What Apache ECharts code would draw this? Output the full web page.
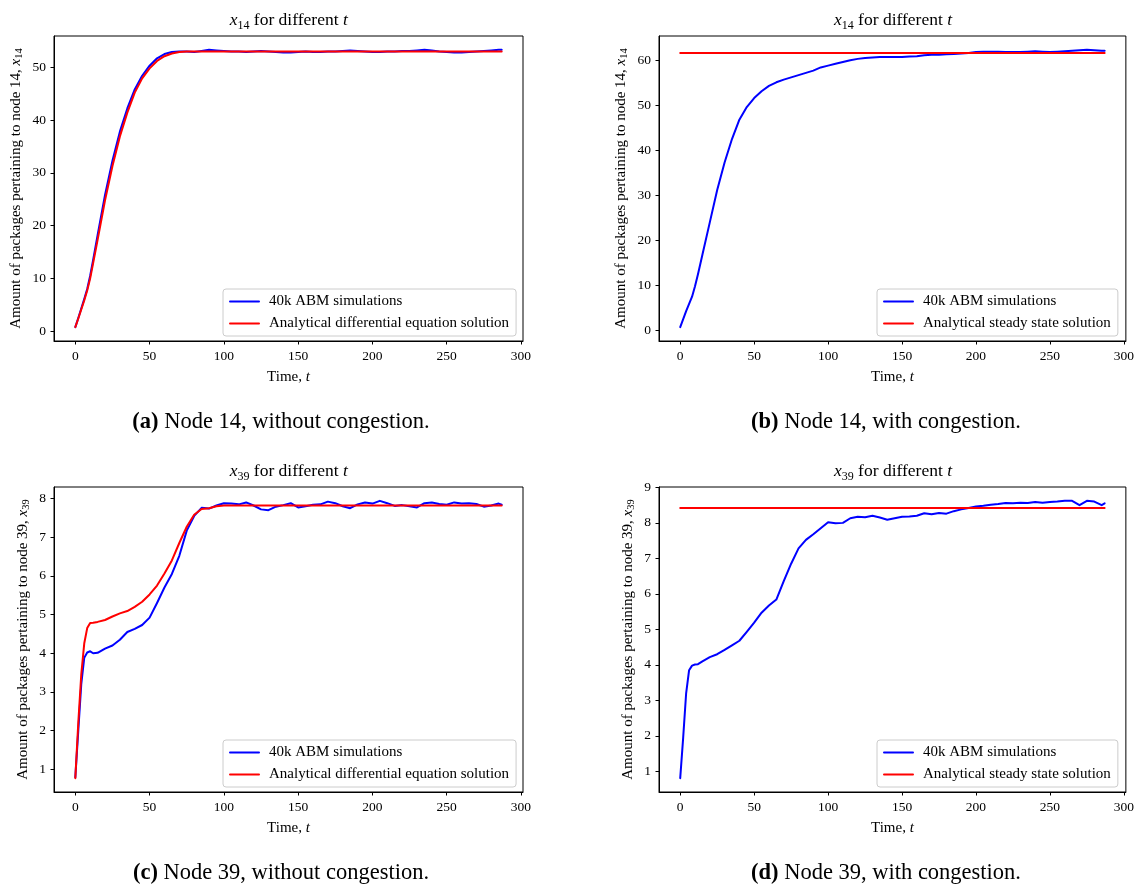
<!DOCTYPE html>
<html><head><meta charset="utf-8">
<script src="https://cdn.jsdelivr.net/npm/echarts@6/dist/echarts.min.js"></script>
<style>html,body{margin:0;padding:0;background:#fff}#c{width:1137px;height:886px}</style>
</head><body><div id="c"></div>
<script>
// ---- data ----
const T = [0,2,4,6,8,10,12,15,20,25,30,35,40,45,50,55,60,65,70,75,80,85,90,95,100,105,110,115,120,125,130,135,140,145,150,155,160,165,170,175,180,185,190,195,200,205,210,215,220,225,230,235,240,245,250,255,260,265,270,275,280,285,287];

const blueA = [0.76,2.5,4.3,6.1,8.0,10.5,13.5,18.2,25.8,32.3,37.8,42.2,45.8,48.4,50.3,51.7,52.5,52.9,53.0,53.0,52.9,53.1,53.3,53.2,53.1,53.0,53.0,52.9,53.0,53.1,53.0,52.9,52.8,52.8,52.9,53.0,52.9,52.9,53.0,53.0,53.1,53.2,53.1,53.0,52.9,52.9,53.0,53.0,53.1,53.1,53.2,53.3,53.2,53.0,52.9,52.8,52.8,52.9,53.0,53.1,53.2,53.3,53.3];
const redA = [0.76,2.4,4.1,5.8,7.7,10.0,12.9,17.3,24.8,31.3,36.9,41.4,45.2,47.9,49.8,51.2,52.1,52.6,52.9,53.0,53.0,53.0,53.0,53.0,53.0,53.0,53.0,53.0,53.0,53.0,53.0,53.0,53.0,53.0,53.0,53.0,53.0,53.0,53.0,53.0,53.0,53.0,53.0,53.0,53.0,53.0,53.0,53.0,53.0,53.0,53.0,53.0,53.0,53.0,53.0,53.0,53.0,53.0,53.0,53.0,53.0,53.0,53.0];

const blueB = [0.74,2.5,4.3,5.9,7.5,9.8,12.5,16.8,24.0,31.2,37.3,42.5,46.8,49.6,51.6,53.1,54.3,55.1,55.7,56.2,56.7,57.2,57.7,58.4,58.8,59.2,59.6,60.0,60.3,60.5,60.6,60.7,60.7,60.7,60.7,60.8,60.9,61.1,61.2,61.2,61.3,61.4,61.5,61.6,61.8,61.9,61.9,61.9,61.8,61.8,61.8,61.9,62.0,61.9,61.8,61.9,62.0,62.1,62.2,62.3,62.2,62.1,62.1];
const steadyB = 61.6;

const blueC = [0.79,2.0,3.2,3.88,4.02,4.05,4.0,4.01,4.12,4.2,4.35,4.55,4.63,4.73,4.92,5.3,5.7,6.05,6.52,7.17,7.55,7.76,7.74,7.82,7.88,7.87,7.85,7.9,7.82,7.72,7.7,7.79,7.83,7.88,7.77,7.8,7.84,7.85,7.92,7.88,7.8,7.75,7.85,7.9,7.87,7.94,7.88,7.81,7.83,7.8,7.77,7.88,7.9,7.86,7.84,7.9,7.87,7.88,7.86,7.79,7.82,7.87,7.84];
const redC = [0.77,2.2,3.45,4.25,4.65,4.78,4.79,4.81,4.86,4.95,5.03,5.09,5.2,5.33,5.52,5.75,6.06,6.4,6.85,7.27,7.58,7.73,7.75,7.8,7.82,7.82,7.82,7.82,7.82,7.82,7.82,7.82,7.82,7.82,7.82,7.82,7.82,7.82,7.82,7.82,7.82,7.82,7.82,7.82,7.82,7.82,7.82,7.82,7.82,7.82,7.82,7.82,7.82,7.82,7.82,7.82,7.82,7.82,7.82,7.82,7.82,7.82,7.82];

const blueD = [0.81,1.95,3.2,3.85,3.98,4.01,4.02,4.1,4.22,4.3,4.42,4.55,4.68,4.93,5.19,5.47,5.67,5.84,6.36,6.85,7.28,7.52,7.68,7.85,8.02,7.99,8.0,8.13,8.17,8.16,8.2,8.15,8.09,8.13,8.17,8.18,8.2,8.27,8.24,8.28,8.26,8.33,8.38,8.42,8.46,8.48,8.51,8.53,8.56,8.55,8.57,8.56,8.59,8.57,8.59,8.6,8.62,8.62,8.5,8.62,8.6,8.5,8.55];
const steadyD = 8.42;

const xTicks = [0,50,100,150,200,250,300];
const yTicksA = [0,10,20,30,40,50];
const yTicksB = [0,10,20,30,40,50,60];
const yTicksC = [1,2,3,4,5,6,7,8];
const yTicksD = [1,2,3,4,5,6,7,8,9];

const ABM = '40k ABM simulations';
const ODE = 'Analytical differential equation solution';
const SS = 'Analytical steady state solution';

// ---- layout / style ----
const FONT = '"Liberation Serif", "Times New Roman", serif';
const FS = 13.5;   // tick numbers
const FT = 15;     // words
const BLUE = '#0000ff', RED = '#ff0000';
const grids = [
  {left:54, top:36, width:469, height:305},
  {left:659, top:36, width:469, height:305},
  {left:54, top:487, width:469, height:305},
  {left:659, top:487, width:469, height:305}
];

function pad(vals){
  const mn = Math.min(...vals), mx = Math.max(...vals), r = mx - mn;
  return [mn - 0.05*r, mx + 0.05*r];
}
const tMin = T[0], tMax = T[T.length-1];
const xr = [tMin - 0.05*(tMax-tMin), tMax + 0.05*(tMax-tMin)];
const yrA = pad(blueA.concat(redA));
const yrB = pad(blueB.concat([steadyB]));
const yrC = pad(blueC.concat(redC));
const yrD = pad(blueD.concat([steadyD]));

const pts = v => T.map((t,i)=>[t, v[i]]);
const flat = v => [[tMin, v],[tMax, v]];

const richName = {
  n:{fontFamily:FONT, fontSize:FT, color:'#000', lineHeight:18},
  i:{fontFamily:FONT, fontSize:FT, color:'#000', fontStyle:'italic', lineHeight:18},
  s:{fontFamily:FONT, fontSize:10.5, color:'#000', lineHeight:10, verticalAlign:'bottom'}
};

function xAxis(gi){
  return {type:'value', gridIndex:gi, min:xr[0], max:xr[1],
    name:'{n|Time, }{i|t}', nameLocation:'middle', nameGap:27,
    nameTextStyle:{rich:richName},
    axisLine:{show:true, onZero:false, lineStyle:{color:'#000', width:1}},
    axisTick:{show:true, length:3.5, inside:false, customValues:xTicks, lineStyle:{color:'#000'}},
    axisLabel:{show:true, customValues:xTicks, margin:8, fontFamily:FONT, fontSize:FS, color:'#000'},
    splitLine:{show:false}};
}
function yAxis(gi, yr, ticks, node, gap){
  return {type:'value', gridIndex:gi, min:yr[0], max:yr[1],
    name:'{n|Amount of packages pertaining to node '+node+', }{i|x}{s|'+node+'}',
    nameLocation:'middle', nameGap:gap, nameRotate:90,
    nameTextStyle:{rich:richName},
    axisLine:{show:true, onZero:false, lineStyle:{color:'#000', width:1}},
    axisTick:{show:true, length:3.5, inside:false, customValues:ticks, lineStyle:{color:'#000'}},
    axisLabel:{show:true, customValues:ticks, margin:8, fontFamily:FONT, fontSize:FS, color:'#000'},
    splitLine:{show:false}};
}
function line(name, gi, data, color, z){
  return {type:'line', name, xAxisIndex:gi, yAxisIndex:gi, data, symbol:'none', showSymbol:false,
    smooth:false, animation:false, z, lineStyle:{color, width:2, join:'round', cap:'round'}, itemStyle:{color}};
}
function legend(left, top, names){
  return {left, top, orient:'vertical', itemWidth:29, itemHeight:14, itemGap:7,
    padding:[5,7,5,6], borderColor:'#cccccc', borderWidth:1, borderRadius:3,
    backgroundColor:'rgba(255,255,255,0.8)', selectedMode:false, data:names,
    itemStyle:{opacity:0}, lineStyle:{width:2},
    textStyle:{fontFamily:FONT, fontSize:FT, color:'#000', padding:[0,0,0,5]}};
}
const titleRich = {
  n:{fontFamily:FONT, fontSize:17.5, fill:'#000', lineHeight:22},
  i:{fontFamily:FONT, fontSize:17.5, fill:'#000', fontStyle:'italic', lineHeight:22},
  s:{fontFamily:FONT, fontSize:12, fill:'#000', lineHeight:12, verticalAlign:'bottom'}
};
function title(x, y, node){
  return {type:'text', x, y, silent:true, style:{text:'{i|x}{s|'+node+'}{n| for different }{i|t}',
    rich:titleRich, align:'center', verticalAlign:'middle', textAlign:'center', textVerticalAlign:'middle', fill:'#000'}};
}
const capRich = {
  b:{fontFamily:FONT, fontSize:22.5, fontWeight:'bold', fill:'#000'},
  n:{fontFamily:FONT, fontSize:22.5, fill:'#000'}
};
function caption(x, y, tag, txt){
  return {type:'text', x, y, silent:true, style:{text:'{b|('+tag+')}{n| '+txt+'}', rich:capRich,
    align:'center', verticalAlign:'middle', textAlign:'center', textVerticalAlign:'middle', fill:'#000'}};
}

const option = {
  animation:false,
  backgroundColor:'#fff',
  grid: grids.map(g=>Object.assign({show:true, borderColor:'#000', borderWidth:1, backgroundColor:'transparent'}, g)),
  xAxis:[xAxis(0), xAxis(1), xAxis(2), xAxis(3)],
  yAxis:[yAxis(0, yrA, yTicksA, 14, 29), yAxis(1, yrB, yTicksB, 14, 29), yAxis(2, yrC, yTicksC, 39, 22), yAxis(3, yrD, yTicksD, 39, 22)],
  legend:[
    legend(223, 289, [ABM, ODE]),
    legend(877, 289, [ABM, SS]),
    legend(223, 740, [ABM, ODE]),
    legend(877, 740, [ABM, SS])
  ],
  series:[
    line(ABM, 0, pts(blueA), BLUE, 2), line(ODE, 0, pts(redA), RED, 3),
    line(ABM, 1, pts(blueB), BLUE, 2), line(SS, 1, flat(steadyB), RED, 3),
    line(ABM, 2, pts(blueC), BLUE, 2), line(ODE, 2, pts(redC), RED, 3),
    line(ABM, 3, pts(blueD), BLUE, 2), line(SS, 3, flat(steadyD), RED, 3)
  ],
  graphic:[
    title(288.7, 20.7, 14), title(893, 20.7, 14), title(288.7, 471.7, 39), title(893, 471.7, 39),
    caption(281, 421.7, 'a', 'Node 14, without congestion.'),
    caption(886, 421.7, 'b', 'Node 14, with congestion.'),
    caption(281, 872.7, 'c', 'Node 39, without congestion.'),
    caption(886, 872.7, 'd', 'Node 39, with congestion.')
  ]
};
const chart = echarts.init(document.getElementById('c'), null, {renderer:'canvas'});
chart.setOption(option);
</script>
</body></html>
